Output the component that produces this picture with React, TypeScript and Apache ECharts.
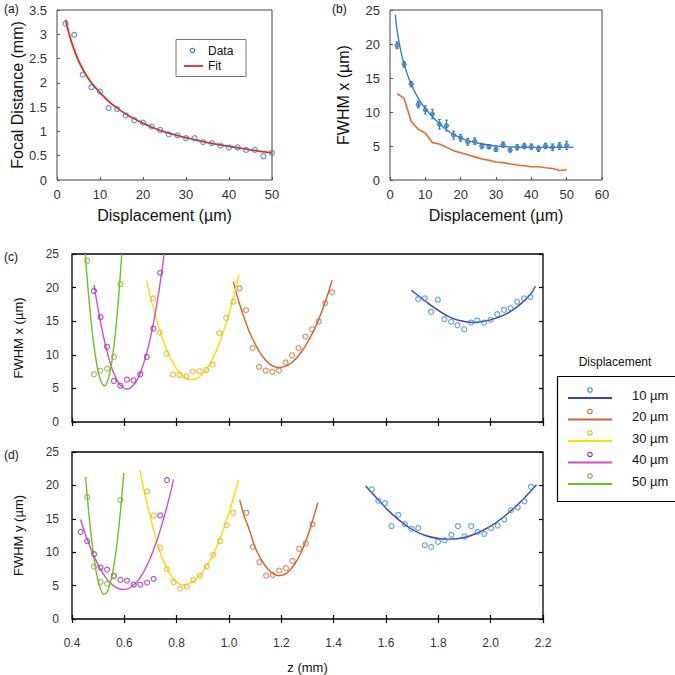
import { useEffect, useRef } from "react";
import * as echarts from "echarts";

const FONT = "'Liberation Sans', Arial, Helvetica, sans-serif";

// ---------- Panel (a): focal distance vs displacement ----------
const aDisp = [2, 4, 6, 8, 10, 12, 14, 16, 18, 20, 22, 24, 26, 28, 30, 32, 34, 36, 38, 40, 42, 44, 46, 48, 50];
const aFocal = [3.22, 2.99, 2.17, 1.91, 1.82, 1.48, 1.46, 1.33, 1.23, 1.18, 1.1, 1.03, 0.94, 0.92, 0.86, 0.86, 0.78, 0.76, 0.71, 0.67, 0.67, 0.62, 0.62, 0.49, 0.56];
const aFitX = [2, 3, 4, 5, 6, 7, 8, 10, 12, 14, 16, 18, 20, 22, 25, 30, 35, 40, 45, 50];
const aFitY = [3.3, 2.95, 2.68, 2.46, 2.28, 2.13, 2.0, 1.8, 1.62, 1.48, 1.36, 1.26, 1.17, 1.09, 0.99, 0.87, 0.77, 0.69, 0.62, 0.56];

// ---------- Panel (b): FWHM x vs displacement ----------
const bDisp = [2, 4, 6, 8, 10, 12, 14, 16, 18, 20, 22, 24, 26, 28, 30, 32, 34, 36, 38, 40, 42, 44, 46, 48, 50];
const bFwhm = [19.8, 17.0, 14.1, 11.1, 10.3, 9.7, 8.2, 8.0, 6.6, 6.2, 5.6, 5.7, 5.0, 4.9, 4.5, 5.2, 4.4, 4.8, 5.0, 4.9, 4.6, 5.0, 4.8, 5.0, 5.1];
const bErr = [0.5, 0.4, 0.4, 0.5, 0.6, 0.7, 0.7, 0.8, 0.6, 0.5, 0.5, 0.5, 0.4, 0.3, 0.3, 0.4, 0.3, 0.4, 0.4, 0.4, 0.4, 0.4, 0.5, 0.5, 0.6];
const bFitX = [1.5, 2, 3, 4, 5, 6, 8, 10, 12, 14, 16, 18, 20, 22, 25, 30, 35, 40, 45, 52];
const bFitY = [24.3, 22.0, 19.1, 17.0, 15.4, 14.1, 12.0, 10.5, 9.3, 8.3, 7.4, 6.7, 6.2, 5.8, 5.4, 5.0, 4.85, 4.8, 4.8, 4.8];
const bTheory = [12.7, 12.0, 8.6, 7.45, 6.9, 5.5, 5.3, 4.8, 4.3, 4.0, 3.7, 3.4, 3.1, 2.9, 2.65, 2.55, 2.35, 2.2, 2.1, 1.95, 1.95, 1.8, 1.7, 1.4, 1.5];

// ---------- Panel (c): FWHM x vs z ----------
const c10X = [1.723, 1.748, 1.772, 1.798, 1.823, 1.849, 1.873, 1.899, 1.925, 1.949, 1.975, 2.0, 2.025, 2.051, 2.076, 2.101, 2.127, 2.152];
const c10Y = [18.3, 18.4, 16.4, 18.2, 15.3, 14.9, 14.4, 13.8, 14.8, 15.1, 14.8, 15.2, 16.05, 16.7, 16.95, 17.9, 18.4, 18.6];
const c10FitX = [1.697, 1.75, 1.8, 1.85, 1.9, 1.93, 1.95, 2.0, 2.05, 2.1, 2.15, 2.171];
const c10FitY = [19.6, 18.0, 16.6, 15.5, 14.95, 14.8, 14.85, 15.2, 15.9, 17.1, 18.9, 20.2];

const c20X = [1.04, 1.065, 1.09, 1.115, 1.14, 1.166, 1.191, 1.216, 1.241, 1.266, 1.292, 1.318, 1.343, 1.368, 1.394];
const c20Y = [19.9, 16.65, 11.0, 8.2, 7.65, 7.45, 7.65, 8.85, 9.9, 11.0, 12.7, 13.8, 14.95, 17.7, 19.3];
const c20FitX = [1.0165, 1.04, 1.06, 1.08, 1.1, 1.12, 1.14, 1.16, 1.18, 1.191, 1.22, 1.24, 1.26, 1.28, 1.3, 1.32, 1.34, 1.36, 1.38, 1.394];
const c20FitY = [20.9, 17.6, 15.3, 13.2, 11.6, 10.2, 9.2, 8.5, 8.15, 8.1, 8.36, 8.85, 9.6, 10.6, 11.85, 13.3, 15.0, 17.0, 19.3, 21.1];

const c30X = [0.71, 0.735, 0.761, 0.786, 0.811, 0.837, 0.862, 0.887, 0.913, 0.938, 0.963, 0.989, 1.0165];
const c30Y = [18.4, 13.3, 10.2, 7.05, 7.0, 6.8, 7.5, 7.55, 7.75, 8.55, 13.2, 15.5, 17.9];
const c30FitX = [0.685, 0.7, 0.72, 0.74, 0.76, 0.78, 0.8, 0.82, 0.84, 0.856, 0.88, 0.9, 0.92, 0.94, 0.96, 0.98, 1.0, 1.02, 1.038];
const c30FitY = [21.0, 18.5, 15.6, 13.1, 10.9, 9.2, 7.9, 6.95, 6.43, 6.3, 6.57, 7.2, 8.2, 9.65, 11.4, 13.6, 16.1, 19.0, 22.0];

const c40X = [0.484, 0.509, 0.534, 0.56, 0.585, 0.61, 0.635, 0.661, 0.686, 0.711, 0.737];
const c40Y = [19.5, 15.6, 11.2, 6.1, 5.4, 6.3, 6.2, 7.1, 9.7, 13.9, 22.2];
const c40FitX = [0.484, 0.5, 0.52, 0.54, 0.56, 0.58, 0.6, 0.61, 0.62, 0.64, 0.66, 0.68, 0.7, 0.72, 0.74, 0.752];
const c40FitY = [20.4, 16.8, 12.8, 9.6, 7.2, 5.7, 5.0, 4.9, 5.0, 5.7, 7.2, 9.5, 12.6, 16.6, 21.5, 25.0];

const c50X = [0.458, 0.484, 0.508, 0.534, 0.56, 0.585];
const c50Y = [24.0, 7.1, 7.65, 7.95, 9.7, 20.5];
const c50FitX = [0.4506, 0.46, 0.47, 0.48, 0.49, 0.5, 0.51, 0.52, 0.524, 0.53, 0.54, 0.55, 0.56, 0.57, 0.58, 0.59];
const c50FitY = [25.0, 20.4, 16.1, 12.5, 9.65, 7.5, 6.1, 5.46, 5.4, 5.56, 6.55, 8.4, 11.2, 14.9, 19.5, 25.0];

// ---------- Panel (d): FWHM y vs z ----------
const d10X = [1.545, 1.571, 1.596, 1.621, 1.647, 1.672, 1.697, 1.723, 1.748, 1.773, 1.799, 1.824, 1.85, 1.875, 1.9, 1.926, 1.951, 1.976, 2.002, 2.027, 2.052, 2.078, 2.103, 2.129, 2.154];
const d10Y = [19.4, 17.7, 17.35, 13.9, 15.6, 14.2, 13.5, 13.6, 11.05, 10.8, 11.55, 11.8, 12.6, 13.9, 12.35, 13.9, 13.05, 12.75, 13.6, 14.0, 14.9, 16.3, 16.7, 17.6, 19.8];
const d10FitX = [1.522, 1.56, 1.6, 1.65, 1.7, 1.75, 1.8, 1.84, 1.9, 1.95, 2.0, 2.05, 2.1, 2.15, 2.175];
const d10FitY = [19.9, 18.3, 16.6, 14.8, 13.4, 12.5, 12.05, 11.95, 12.2, 12.9, 13.9, 15.3, 17.0, 19.0, 20.1];

const d20X = [1.066, 1.091, 1.116, 1.142, 1.167, 1.192, 1.218, 1.243, 1.268, 1.293, 1.319];
const d20Y = [15.9, 10.8, 8.5, 6.5, 6.6, 7.25, 7.6, 8.7, 10.5, 11.3, 14.2];
const d20FitX = [1.041, 1.06, 1.08, 1.1, 1.12, 1.14, 1.16, 1.18, 1.193, 1.21, 1.23, 1.25, 1.27, 1.29, 1.31, 1.339];
const d20FitY = [17.8, 15.2, 13.1, 10.7, 9.1, 7.9, 7.03, 6.58, 6.5, 6.65, 7.2, 8.16, 9.5, 11.3, 13.5, 17.4];

const d30X = [0.687, 0.712, 0.737, 0.763, 0.788, 0.813, 0.839, 0.864, 0.889, 0.915, 0.94, 0.966, 0.991, 1.016];
const d30Y = [19.1, 15.5, 10.7, 7.45, 5.5, 4.55, 4.85, 5.85, 6.5, 7.9, 9.6, 11.65, 14.05, 15.9];
const d30FitX = [0.66, 0.68, 0.7, 0.72, 0.74, 0.76, 0.78, 0.8, 0.825, 0.84, 0.86, 0.88, 0.9, 0.92, 0.94, 0.96, 0.98, 1.0, 1.02, 1.036];
const d30FitY = [22.3, 18.4, 15.2, 12.1, 9.66, 7.77, 6.4, 5.5, 5.1, 5.18, 5.53, 6.17, 7.1, 8.3, 9.7, 11.5, 13.6, 15.9, 18.6, 20.8];

const d40X = [0.433, 0.458, 0.484, 0.509, 0.534, 0.56, 0.585, 0.61, 0.636, 0.661, 0.687, 0.712, 0.737, 0.763];
const d40Y = [13.05, 11.65, 9.7, 7.7, 7.4, 6.45, 5.85, 5.75, 5.15, 5.15, 5.45, 6.0, 15.5, 20.8];
const d40FitX = [0.433, 0.45, 0.47, 0.49, 0.51, 0.53, 0.55, 0.57, 0.59, 0.61, 0.63, 0.65, 0.67, 0.69, 0.71, 0.73, 0.75, 0.77, 0.788];
const d40FitY = [14.9, 12.8, 10.7, 8.9, 7.35, 6.15, 5.26, 4.68, 4.42, 4.48, 4.9, 5.67, 6.8, 8.3, 10.2, 12.4, 15.0, 17.9, 20.9];

const d50X = [0.458, 0.484, 0.509, 0.534, 0.56, 0.585];
const d50Y = [18.25, 7.85, 5.55, 5.3, 6.4, 17.8];
const d50FitX = [0.452, 0.46, 0.47, 0.48, 0.49, 0.5, 0.51, 0.52, 0.53, 0.54, 0.55, 0.56, 0.57, 0.58, 0.59, 0.598];
const d50FitY = [21.3, 17.6, 13.6, 10.3, 7.6, 5.65, 4.37, 3.75, 3.82, 4.55, 5.95, 8.0, 10.7, 14.1, 18.2, 21.9];

// ---------- legend / colours ----------
const dispLabels = ["10 µm", "20 µm", "30 µm", "40 µm", "50 µm"];
const lineColors = ["#3d3fb5", "#d2622c", "#f5e100", "#d24fc2", "#72c01e"];
const markColors = ["#3f8fd6", "#d8703a", "#f0ac1e", "#9a2fbf", "#7cb436"];

const pairs = (xs: number[], ys: number[]) => xs.map((x, i) => [x, ys[i]]);

const cSets = [
  [c10X, c10Y, c10FitX, c10FitY],
  [c20X, c20Y, c20FitX, c20FitY],
  [c30X, c30Y, c30FitX, c30FitY],
  [c40X, c40Y, c40FitX, c40FitY],
  [c50X, c50Y, c50FitX, c50FitY],
];
const dSets = [
  [d10X, d10Y, d10FitX, d10FitY],
  [d20X, d20Y, d20FitX, d20FitY],
  [d30X, d30Y, d30FitX, d30FitY],
  [d40X, d40Y, d40FitX, d40FitY],
  [d50X, d50Y, d50FitX, d50FitY],
];

export default function App() {
  const ref = useRef<HTMLDivElement>(null);

  useEffect(() => {
    const chart = echarts.init(ref.current!, null, { renderer: "svg" });

    const tickLabel = (size: number, margin: number, show = true) => ({
      show,
      fontSize: size,
      color: "#333",
      fontFamily: FONT,
      margin,
    });

    const smallTick = { show: true, inside: true, length: 3, lineStyle: { color: "#555", width: 1 } };
    const bigTick = { show: true, inside: true, length: 4, lineStyle: { color: "#000", width: 1.2 } };

    const zAxis = (grid: number, pos: "top" | "bottom", labels: boolean, name?: string) => ({
      type: "value",
      gridIndex: grid,
      position: pos,
      min: 0.4,
      max: 2.2,
      interval: 0.2,
      axisLine: { show: false },
      axisTick: bigTick,
      splitLine: { show: false },
      axisLabel: { ...tickLabel(12, 18, labels), formatter: (v: number) => v.toFixed(1) },
      name: name || "",
      nameLocation: "middle",
      nameGap: 42,
      nameTextStyle: { fontSize: 13, color: "#111", fontFamily: FONT },
    });

    const fwhmAxis = (grid: number, pos: "left" | "right", labels: boolean, name?: string) => ({
      type: "value",
      gridIndex: grid,
      position: pos,
      min: 0,
      max: 25,
      interval: 5,
      axisLine: { show: false },
      axisTick: bigTick,
      splitLine: { show: false },
      axisLabel: tickLabel(12, 13, labels),
      name: name || "",
      nameLocation: "middle",
      nameRotate: 90,
      nameGap: 47,
      nameTextStyle: { fontSize: 13, color: "#111", fontFamily: FONT },
    });

    const lineSeries = (xi: number, yi: number, data: number[][], color: string, width: number, smooth: boolean | number) => ({
      type: "line",
      xAxisIndex: xi,
      yAxisIndex: yi,
      data,
      showSymbol: false,
      smooth,
      lineStyle: { color, width },
      itemStyle: { color },
      z: 2,
    });

    const hollowSeries = (xi: number, yi: number, data: number[][], color: string) => ({
      type: "scatter",
      xAxisIndex: xi,
      yAxisIndex: yi,
      data,
      symbol: "circle",
      symbolSize: 5,
      itemStyle: { color: "rgba(255,255,255,0)", borderColor: color, borderWidth: 1.2 },
      z: 3,
    });

    const series: any[] = [];

    // (a)
    series.push(lineSeries(0, 0, pairs(aFitX, aFitY), "#e8281e", 1.8, 0.4));
    series.push(hollowSeries(0, 0, pairs(aDisp, aFocal), "#3b7fc4"));

    // (b)
    series.push(lineSeries(1, 1, pairs(bDisp, bTheory), "#e8692c", 1.6, false));
    series.push(lineSeries(1, 1, pairs(bFitX, bFitY), "#3a80c8", 1.4, 0.4));
    series.push({
      type: "custom",
      xAxisIndex: 1,
      yAxisIndex: 1,
      data: bDisp.map((x, i) => [x, bFwhm[i], bErr[i]]),
      encode: { x: 0, y: 1 },
      z: 4,
      renderItem: (_p: any, api: any) => {
        const x = api.value(0);
        const y = api.value(1);
        const e = api.value(2);
        const top = api.coord([x, y + e]);
        const bot = api.coord([x, y - e]);
        const st = { stroke: "#2e76c0", lineWidth: 1 };
        return {
          type: "group",
          children: [
            { type: "line", shape: { x1: top[0], y1: top[1], x2: bot[0], y2: bot[1] }, style: st },
            { type: "line", shape: { x1: top[0] - 1.5, y1: top[1], x2: top[0] + 1.5, y2: top[1] }, style: st },
            { type: "line", shape: { x1: bot[0] - 1.5, y1: bot[1], x2: bot[0] + 1.5, y2: bot[1] }, style: st },
          ],
        };
      },
    });
    series.push({
      type: "scatter",
      xAxisIndex: 1,
      yAxisIndex: 1,
      data: pairs(bDisp, bFwhm),
      symbol: "circle",
      symbolSize: 4.5,
      itemStyle: { color: "#3f86cc", borderColor: "#2a6db5", borderWidth: 0.8 },
      z: 5,
    });

    // (c) and (d)
    cSets.forEach((s, i) => {
      series.push(lineSeries(2, 2, pairs(s[2], s[3]), lineColors[i], 1.4, 0.4));
      series.push(hollowSeries(2, 2, pairs(s[0], s[1]), markColors[i]));
    });
    dSets.forEach((s, i) => {
      series.push(lineSeries(4, 4, pairs(s[2], s[3]), lineColors[i], 1.4, 0.4));
      series.push(hollowSeries(4, 4, pairs(s[0], s[1]), markColors[i]));
    });

    const txt = (text: string, x: number, y: number, size: number, align = "left") => ({
      type: "text",
      x,
      y,
      silent: true,
      style: { text, fontSize: size, fontFamily: FONT, fill: "#111", align, verticalAlign: "middle" },
    });

    const graphic: any[] = [
      txt("(a)", 4, 9, 12),
      txt("(b)", 332, 9, 12),
      txt("(c)", 4, 257, 12),
      txt("(d)", 4, 455, 12),
      // legend (a)
      { type: "rect", shape: { x: 176, y: 39.5, width: 70, height: 37 }, style: { fill: "#fff", stroke: "#777", lineWidth: 1 }, z: 10 },
      { type: "circle", shape: { cx: 192.5, cy: 50.5, r: 2.2 }, style: { fill: "none", stroke: "#3b7fc4", lineWidth: 1.2 }, z: 11 },
      { type: "line", shape: { x1: 184, y1: 66, x2: 203, y2: 66 }, style: { stroke: "#e8281e", lineWidth: 1.8 }, z: 11 },
      { ...txt("Data", 208, 50.5, 12), z: 11 },
      { ...txt("Fit", 208, 66, 12), z: 11 },
      // right legend
      txt("Displacement", 615, 362, 12, "center"),
      { type: "rect", shape: { x: 557.5, y: 376.5, width: 122, height: 125 }, style: { fill: "#fff", stroke: "#000", lineWidth: 1.2 }, z: 10 },
    ];
    dispLabels.forEach((lab, i) => {
      const dy = i * 21.5;
      graphic.push({ type: "circle", shape: { cx: 590, cy: 390 + dy, r: 2.2 }, style: { fill: "none", stroke: markColors[i], lineWidth: 1.2 }, z: 11 });
      graphic.push({ type: "line", shape: { x1: 568, y1: 398 + dy, x2: 612, y2: 398 + dy }, style: { stroke: lineColors[i], lineWidth: 1.8 }, z: 11 });
      graphic.push({ ...txt(lab, 632, 395 + dy, 13), z: 11 });
    });

    const option: any = {
      animation: false,
      backgroundColor: "#fff",
      textStyle: { fontFamily: FONT },
      grid: [
        { left: 57, top: 10, width: 215, height: 170, show: true, borderColor: "#444", borderWidth: 1, backgroundColor: "transparent" },
        { left: 390, top: 10, width: 212, height: 170, show: true, borderColor: "#444", borderWidth: 1, backgroundColor: "transparent" },
        { left: 72, top: 254, width: 471, height: 168, show: true, borderColor: "#000", borderWidth: 1.3, backgroundColor: "transparent" },
        { left: 72, top: 452, width: 471, height: 168, show: true, borderColor: "#000", borderWidth: 1.3, backgroundColor: "transparent" },
      ],
      xAxis: [
        {
          type: "value", gridIndex: 0, min: 0, max: 50, interval: 10,
          axisLine: { show: false }, axisTick: smallTick, splitLine: { show: false },
          axisLabel: tickLabel(13, 8),
          name: "Displacement (µm)", nameLocation: "middle", nameGap: 27,
          nameTextStyle: { fontSize: 16, color: "#111", fontFamily: FONT },
        },
        {
          type: "value", gridIndex: 1, min: 0, max: 60, interval: 10,
          axisLine: { show: false }, axisTick: smallTick, splitLine: { show: false },
          axisLabel: tickLabel(13, 8),
          name: "Displacement (µm)", nameLocation: "middle", nameGap: 27,
          nameTextStyle: { fontSize: 16, color: "#111", fontFamily: FONT },
        },
        zAxis(2, "bottom", false),
        zAxis(2, "top", false),
        zAxis(3, "bottom", true, "z (mm)"),
        zAxis(3, "top", false),
      ],
      yAxis: [
        {
          type: "value", gridIndex: 0, min: 0, max: 3.5, interval: 0.5,
          axisLine: { show: false }, axisTick: smallTick, splitLine: { show: false },
          axisLabel: tickLabel(13, 10),
          name: "Focal Distance (mm)", nameLocation: "middle", nameRotate: 90, nameGap: 32,
          nameTextStyle: { fontSize: 16, color: "#111", fontFamily: FONT },
        },
        {
          type: "value", gridIndex: 1, min: 0, max: 25, interval: 5,
          axisLine: { show: false }, axisTick: smallTick, splitLine: { show: false },
          axisLabel: tickLabel(13, 10),
          name: "FWHM x (µm)", nameLocation: "middle", nameRotate: 90, nameGap: 39,
          nameTextStyle: { fontSize: 16, color: "#111", fontFamily: FONT },
        },
        fwhmAxis(2, "left", true, "FWHM x (µm)"),
        fwhmAxis(2, "right", false),
        fwhmAxis(3, "left", true, "FWHM y (µm)"),
        fwhmAxis(3, "right", false),
      ],
      series,
      graphic,
    };

    chart.setOption(option);
    return () => chart.dispose();
  }, []);

  return (
    <div
      ref={ref}
      style={{ position: "absolute", left: 0, top: 0, width: 675, height: 675, background: "#fff" }}
    />
  );
}
